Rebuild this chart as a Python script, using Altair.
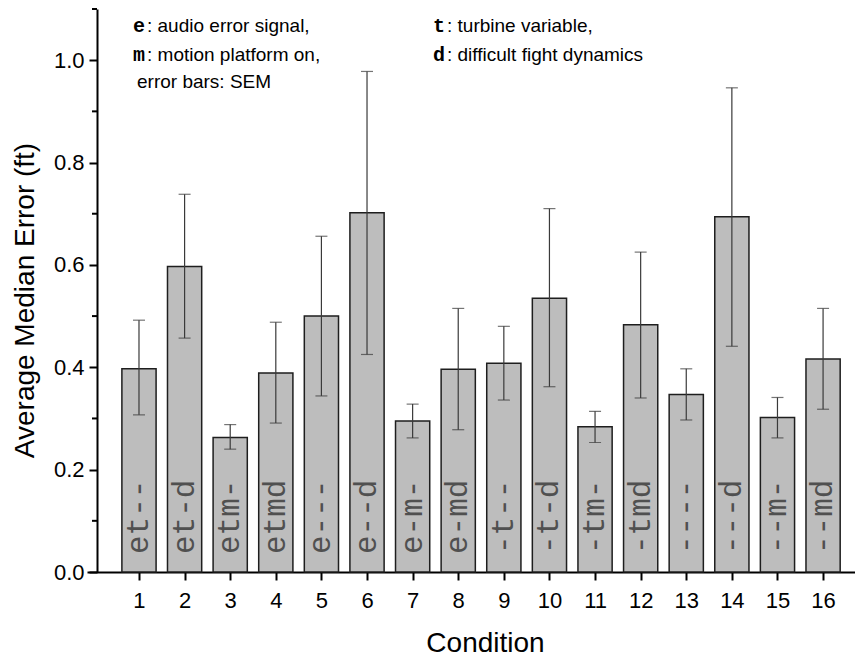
import altair as alt
import pandas as pd

# Per-condition results
conditions = list(range(1, 17))
codes = ["et--", "et-d", "etm-", "etmd", "e---", "e--d", "e-m-", "e-md",
         "-t--", "-t-d", "-tm-", "-tmd", "----", "---d", "--m-", "--md"]
mean_err = [0.397, 0.597, 0.263, 0.389, 0.500, 0.702, 0.295, 0.396,
            0.408, 0.535, 0.284, 0.483, 0.347, 0.694, 0.302, 0.416]
err_lo = [0.307, 0.457, 0.240, 0.291, 0.344, 0.425, 0.262, 0.278,
          0.336, 0.362, 0.253, 0.340, 0.297, 0.441, 0.262, 0.318]
err_hi = [0.492, 0.738, 0.288, 0.488, 0.656, 0.978, 0.328, 0.515,
          0.480, 0.710, 0.314, 0.625, 0.397, 0.946, 0.341, 0.515]

major_ticks = [0.0, 0.2, 0.4, 0.6, 0.8, 1.0]
minor_ticks = [0.1, 0.3, 0.5, 0.7, 0.9, 1.1]

df = pd.DataFrame({"cond": conditions, "code": codes, "val": mean_err,
                   "lo": err_lo, "hi": err_hi})
minor_df = pd.DataFrame({"v": minor_ticks})

X_DOMAIN = [-0.14, 16.70]
Y_DOMAIN = [0, 1.1]
HALF_W = 0.375

xs = alt.Scale(domain=X_DOMAIN, nice=False, zero=False)
ys = alt.Scale(domain=Y_DOMAIN, nice=False)

base = alt.Chart(df)

bars = base.transform_calculate(
    x0=f"datum.cond - {HALF_W}", x1=f"datum.cond + {HALF_W}"
).mark_bar(fill="#bdbdbd", stroke="#1e1e1e", strokeWidth=1.5).encode(
    x=alt.X("x0:Q", scale=xs,
            axis=alt.Axis(values=conditions, format="d", title="Condition",
                          titleX=398, titleY=71, titleBaseline="middle",
                          titleFontSize=28, titleFontWeight="normal",
                          labelFontSize=22, labelPadding=10, tickSize=8,
                          grid=False)),
    x2="x1:Q",
    y=alt.Y("val:Q", scale=ys,
            axis=alt.Axis(values=major_ticks, format=".1f",
                          title="Average Median Error (ft)",
                          titleX=-72, titleY=291, titleBaseline="middle",
                          titleAngle=270,
                          titleFontSize=28, titleFontWeight="normal",
                          labelFontSize=22, labelPadding=5, tickSize=8,
                          offset=-10, grid=False)),
    y2=alt.datum(0),
)

stems = base.mark_rule(color="#3a3a3a", strokeWidth=1.2).encode(
    x=alt.X("cond:Q", scale=xs), y=alt.Y("lo:Q", scale=ys), y2="hi:Q"
)
cap_lo = base.mark_tick(color="#3a3a3a", thickness=1.2, size=12, orient="horizontal").encode(
    x=alt.X("cond:Q", scale=xs), y=alt.Y("lo:Q", scale=ys)
)
cap_hi = base.mark_tick(color="#3a3a3a", thickness=1.2, size=12, orient="horizontal").encode(
    x=alt.X("cond:Q", scale=xs), y=alt.Y("hi:Q", scale=ys)
)

labels = base.mark_text(font="Liberation Mono", fontSize=31, color="#505050",
                        angle=270, align="left", baseline="middle").encode(
    x=alt.X("cond:Q", scale=xs), y=alt.value(545), text="code:N"
)

minor = alt.Chart(minor_df).mark_rule(color="black", strokeWidth=2).encode(
    x=alt.value(5), x2=alt.value(10), y=alt.Y("v:Q", scale=ys)
)

# Key to the condition codes
sym_df = pd.DataFrame({
    "s": ["e", "m", "t", "d"],
    "px": [46, 46, 346, 346],
    "py": [17, 46, 17, 46],
})
desc_df = pd.DataFrame({
    "s": [": audio error signal,", ": motion platform on,", "error bars: SEM",
          ": turbine variable,", ": difficult fight dynamics"],
    "px": [60, 60, 50, 360, 360],
    "py": [17, 46, 73, 17, 46],
})
key_sym = alt.Chart(sym_df).mark_text(font="Liberation Mono", fontWeight="bold",
                                      fontSize=20, align="left", baseline="middle",
                                      color="black").encode(
    x=alt.X("px:Q", scale=None), y=alt.Y("py:Q", scale=None), text="s:N"
)
key_desc = alt.Chart(desc_df).mark_text(font="Liberation Sans", fontSize=19,
                                        align="left", baseline="middle",
                                        color="black").encode(
    x=alt.X("px:Q", scale=None), y=alt.Y("py:Q", scale=None), text="s:N"
)

chart = alt.layer(bars, stems, cap_lo, cap_hi, labels, minor, key_sym, key_desc).properties(
    width=768, height=563,
    autosize=alt.AutoSizeParams(type="none"),
    padding={"left": 87, "top": 9, "right": 0, "bottom": 89},
    background="white",
).configure_view(stroke=None).configure_axis(
    domainColor="black", domainWidth=2, tickColor="black", tickWidth=2,
    labelColor="black", titleColor="black", labelFont="Liberation Sans",
    titleFont="Liberation Sans",
)

chart.save("out.html", embed_options={"renderer": "svg", "actions": False})
